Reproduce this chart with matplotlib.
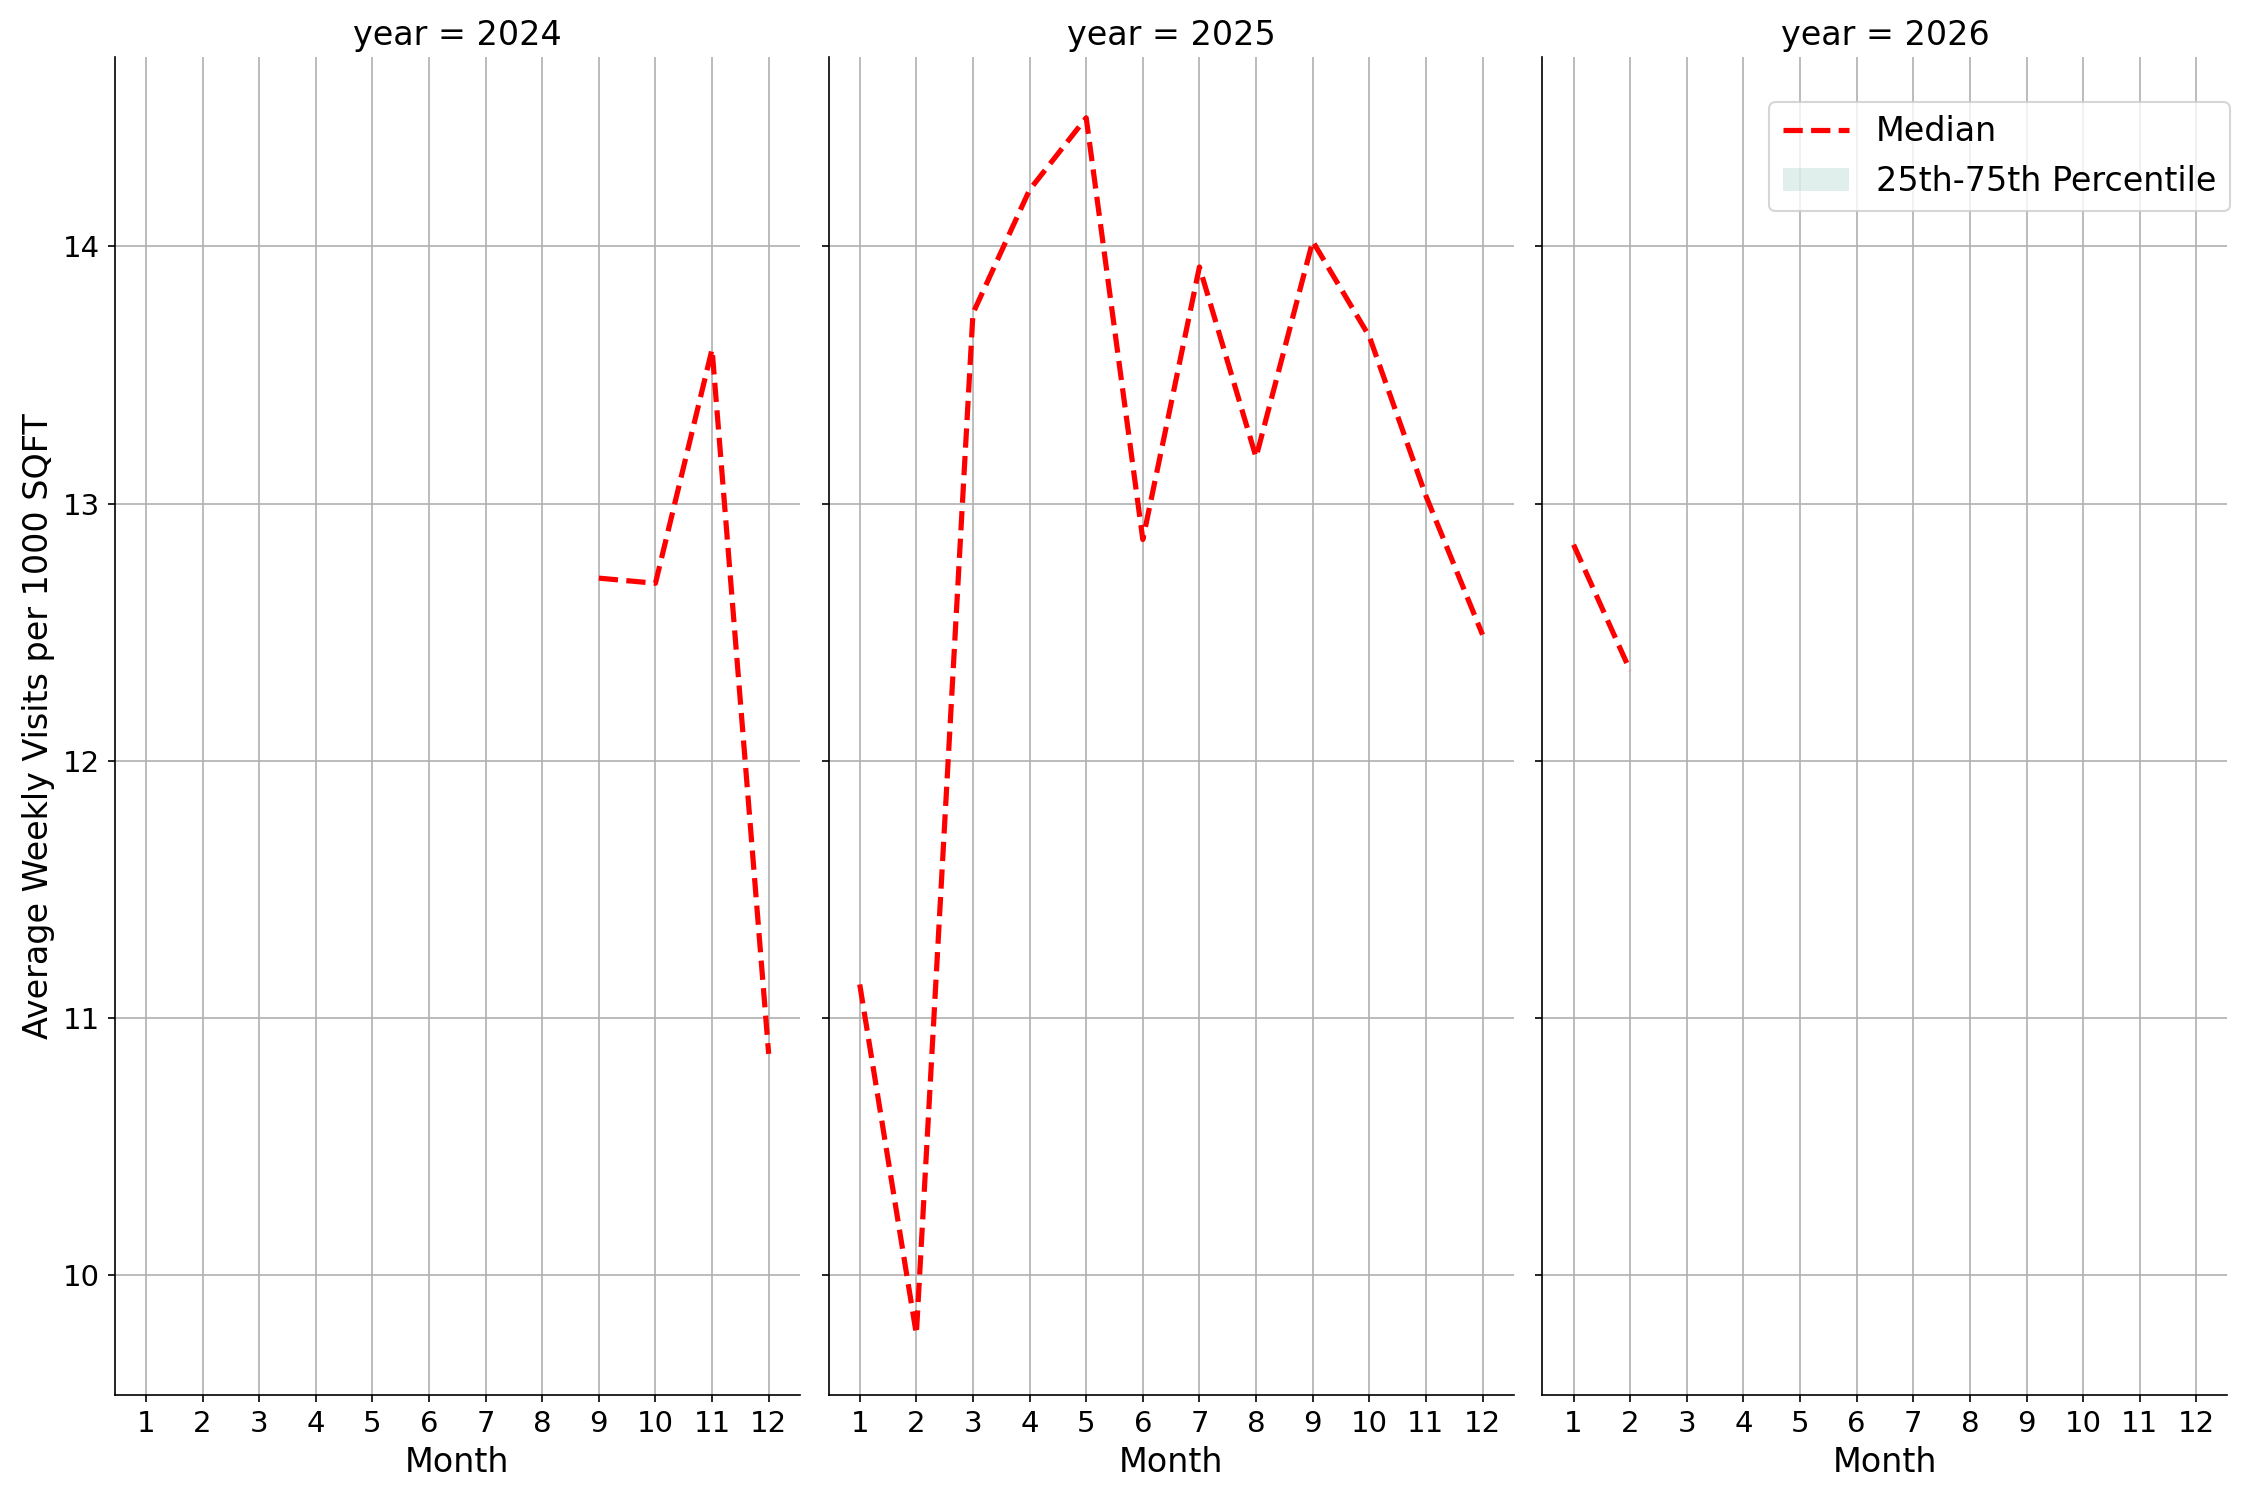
import numpy as np
import matplotlib
matplotlib.use("Agg")
import matplotlib.pyplot as plt
from matplotlib.patches import Patch
from matplotlib.lines import Line2D

years = [2024, 2025, 2026]
months = list(range(1, 13))

# median per month
months_2024 = [9, 10, 11, 12]
median_2024 = [12.71, 12.69, 13.60, 10.86]
months_2025 = [1, 2, 3, 4, 5, 6, 7, 8, 9, 10, 11, 12]
median_2025 = [11.13, 9.77, 13.74, 14.22, 14.50, 12.86, 13.92, 13.18, 14.02, 13.65, 13.03, 12.49]
months_2026 = [1, 2]
median_2026 = [12.84, 12.35]

series = {2024: (months_2024, median_2024),
          2025: (months_2025, median_2025),
          2026: (months_2026, median_2026)}

plt.rcParams['font.size'] = 14

fig, axes = plt.subplots(1, 3, figsize=(15, 10), dpi=150, sharex=True, sharey=True)

for ax, yr in zip(axes, years):
    m, v = series[yr]
    ax.plot(m, v, color='red', linestyle='--', linewidth=2.5)
    ax.set_title(f'year = {yr}', fontsize=16)
    ax.set_xlabel('Month', fontsize=16)
    ax.set_xticks(months)
    ax.grid(True, color='#b0b0b0', linewidth=0.8)
    ax.spines['top'].set_visible(False)
    ax.spines['right'].set_visible(False)
    ax.tick_params(labelsize=14)

axes[0].set_ylabel('Average Weekly Visits per 1000 SQFT', fontsize=16)
axes[0].set_xlim(0.45, 12.55)

handles = [Line2D([0], [0], color='red', linestyle='--', linewidth=2.5),
           Patch(facecolor='#69b3a2', alpha=0.2)]

fig.subplots_adjust(left=0.051, right=0.990, top=0.962, bottom=0.070, wspace=0.042)
fig.legend(handles, ['Median', '25th-75th Percentile'], loc='upper right',
           bbox_to_anchor=(0.991, 0.932), borderaxespad=0, fontsize=16)
plt.savefig('out.png')
